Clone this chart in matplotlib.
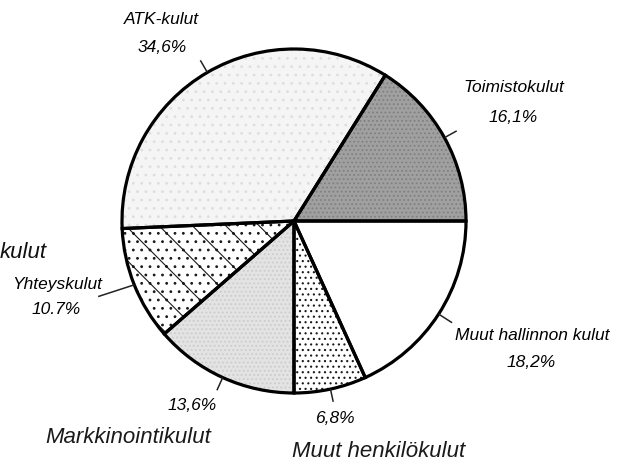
import matplotlib
matplotlib.use("Agg")
import matplotlib.pyplot as plt
import numpy as np

# ---- data ----
categories = ["Toimistokulut", "ATK-kulut", "Yhteyskulut", "Markkinointikulut",
              "Muut henkilökulut", "Muut hallinnon kulut"]
values = [16.1, 34.6, 10.7, 13.6, 6.8, 18.2]
pct_labels = ["16,1%", "34,6%", "10.7%", "13,6%", "6,8%", "18,2%"]

# ---- styles ----
face = ["#a0a0a0", "#f5f5f5", "#ffffff", "#e3e3e3", "#ffffff", "#ffffff"]
hatch = ["....", "..", "\\..", "....", "...", None]
hcol = ["#808080", "#dedede", "#1a1a1a", "#cccccc", "#1a1a1a", "#ffffff"]

W, H = 621, 464
plt.rcParams['hatch.linewidth'] = 0.8
fig = plt.figure(figsize=(W / 100, H / 100), dpi=100)
ax = fig.add_axes([0, 0, 1, 1])

def Y(y):
    return H - y

cx, cy, R = 294, Y(222), 172

wedges, _ = ax.pie(values, startangle=0, counterclock=True, center=(cx, cy), radius=R,
                   colors=face, wedgeprops=dict(linewidth=0))
for w, h, c in zip(wedges, hatch, hcol):
    w.set_edgecolor(c)
    w.set_linewidth(0)
    if h:
        w.set_hatch(h)

outl, _ = ax.pie(values, startangle=0, counterclock=True, center=(cx, cy), radius=R,
                 wedgeprops=dict(facecolor="none", edgecolor="black", linewidth=2.3))

# leader lines at the middle angle of each wedge
lead_len = [14, 14, 38, 14, 13, 16]
for w, L in zip(outl, lead_len):
    ang = np.deg2rad((w.theta1 + w.theta2) / 2)
    x0, y0 = cx + R * np.cos(ang), cy + R * np.sin(ang)
    x1, y1 = cx + (R + L) * np.cos(ang), cy + (R + L) * np.sin(ang)
    if w.theta1 > 180 and w.theta2 < 225:
        ang2 = np.deg2rad(198)
        x1, y1 = x0 + L * np.cos(ang2), y0 + L * np.sin(ang2)
    ax.plot([x0, x1], [y0, y1], color="#222222", lw=1.1, solid_capstyle="butt")

fam = ["Liberation Sans Narrow", "Liberation Sans", "DejaVu Sans"]
small = dict(fontsize=12.5, style="italic", family=fam, color="#000000",
             ha="center", va="center")
big = dict(fontsize=16, style="italic", family=["Liberation Sans", "DejaVu Sans"],
           color="#1a1a1a", ha="center", va="center")

ax.text(161, Y(20), categories[1], **small)
ax.text(162, Y(47), pct_labels[1], **small)
ax.text(514, Y(88), categories[0], **small)
ax.text(513, Y(117), pct_labels[0], **small)
ax.text(532, Y(336), categories[5], **small)
ax.text(531, Y(363), pct_labels[5], **small)
ax.text(57, Y(285), categories[2], **small)
ax.text(56, Y(310), pct_labels[2], **small)
ax.text(192, Y(406), pct_labels[3], **small)
ax.text(335, Y(419), pct_labels[4], **small)

ax.text(0, Y(252), "kulut", fontsize=16, style="italic",
        family=["Liberation Sans", "DejaVu Sans"], color="#111111", ha="left", va="center")
ax.text(128, Y(438), categories[3], **big)
ax.text(379, Y(452), categories[4], **big)

ax.set_xlim(0, W)
ax.set_ylim(0, H)
ax.set_aspect("auto")
ax.axis("off")
fig.savefig("out.png", dpi=100)
